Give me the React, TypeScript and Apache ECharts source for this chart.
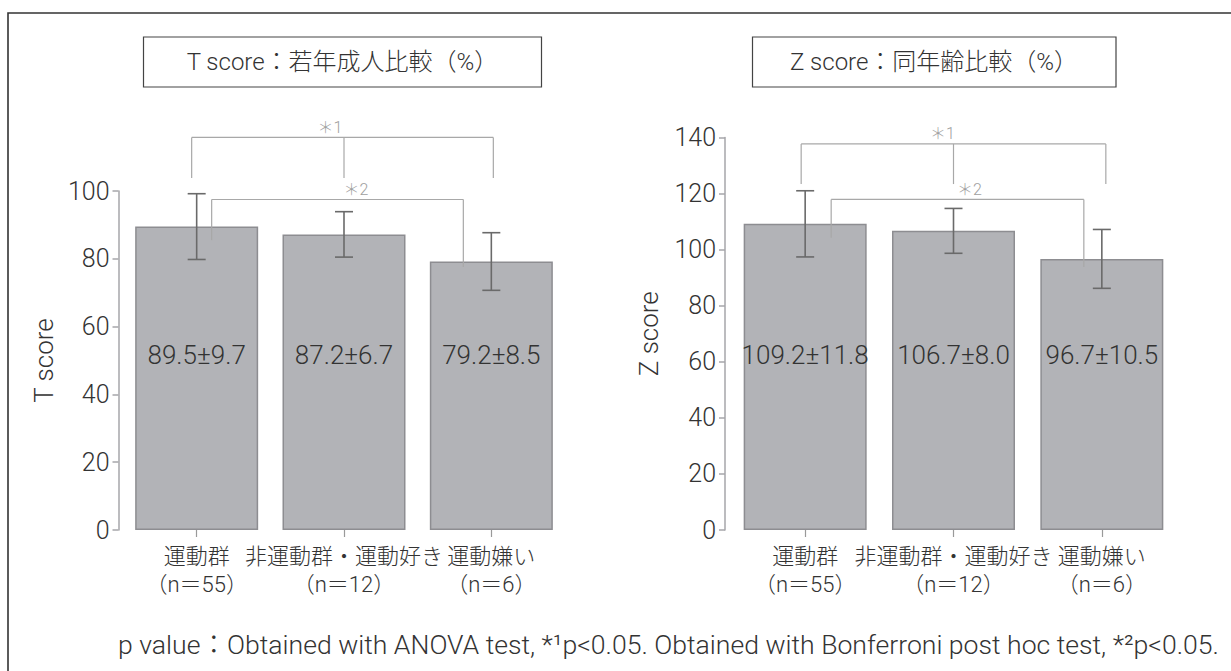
import React, { useEffect, useRef } from "react";
import * as echarts from "echarts";

// ---- data ----
const categories = ["運動群\n（n＝55）", "非運動群・運動好き\n（n＝12）", "運動嫌い\n（n＝6）"];
const tMeans = [89.5, 87.2, 79.2];
const tSDs = [9.7, 6.7, 8.5];
const zMeans = [109.2, 106.7, 96.7];
const zSDs = [11.8, 8.0, 10.5];
const tAxis = { min: 0, max: 100, interval: 20 };
const zAxis = { min: 0, max: 140, interval: 20 };
const tTitle = "T score：若年成人比較（%）";
const zTitle = "Z score：同年齢比較（%）";
const tName = "T score";
const zName = "Z score";
// brackets: from/to category, level (axis value of horizontal), legEnds (axis values)
const tBrackets = [
  { from: 0, to: 2, mid: 1, level: 115.8, legEnds: [103.8, 103.8, 103.8], label: "＊1" },
  { from: 0, to: 2, mid: -1, level: 97.5, legEnds: [85.5, 77.6], label: "＊2" },
];
const zBrackets = [
  { from: 0, to: 2, mid: 1, level: 137.7, legEnds: [123.4, 123.4, 123.4], label: "＊1" },
  { from: 0, to: 2, mid: -1, level: 117.9, legEnds: [104.2, 93.8], label: "＊2" },
];
const footnote =
  "p value：Obtained with ANOVA test, *¹p<0.05. Obtained with Bonferroni post hoc test, *²p<0.05.";

const FONT = "Roboto, 'Noto Sans CJK JP', sans-serif";
const TEXT = "#333333";
const BAR = "#b2b3b7";
const BAR_BORDER = "#8d8d91";
const ERR = "#6a6a6a";
const BRK = "#a8a8a8";
const AXIS = "#a6a6aa";

function errorSeries(grid: number, means: number[], sds: number[]) {
  return {
    type: "custom",
    xAxisIndex: grid,
    yAxisIndex: grid,
    data: means.map((m, i) => [i, m, sds[i]]),
    z: 5,
    renderItem: (params: any, api: any) => {
      const i = api.value(0);
      const m = api.value(1);
      const s = api.value(2);
      const top = api.coord([i, m + s]);
      const bot = api.coord([i, m - s]);
      const hw = 9;
      const st = { stroke: ERR, lineWidth: 1.6 };
      return {
        type: "group",
        children: [
          { type: "line", shape: { x1: top[0], y1: top[1], x2: bot[0], y2: bot[1] }, style: st },
          { type: "line", shape: { x1: top[0] - hw, y1: top[1], x2: top[0] + hw, y2: top[1] }, style: st },
          { type: "line", shape: { x1: bot[0] - hw, y1: bot[1], x2: bot[0] + hw, y2: bot[1] }, style: st },
        ],
      };
    },
  };
}

function labelSeries(grid: number, means: number[], sds: number[]) {
  return {
    type: "custom",
    xAxisIndex: grid,
    yAxisIndex: grid,
    data: means.map((m, i) => [i, m, sds[i]]),
    z: 6,
    renderItem: (params: any, api: any) => {
      const i = api.value(0);
      const p = api.coord([i, 0]);
      const txt = `${means[i].toFixed(1)}±${sds[i].toFixed(1)}`;
      return {
        type: "text",
        x: p[0],
        y: 355,
        style: { text: txt, fill: TEXT, font: `300 26px ${FONT}`, align: "center", verticalAlign: "middle" },
      };
    },
  };
}

function bracketSeries(grid: number, brackets: any[], offs: any) {
  return {
    type: "custom",
    xAxisIndex: grid,
    yAxisIndex: grid,
    data: brackets.map((b, i) => [b.from, b.level, i]),
    z: 4,
    clip: false,
    renderItem: (params: any, api: any) => {
      const b = brackets[params.dataIndex];
      const y = api.coord([0, b.level])[1];
      const st = { stroke: BRK, lineWidth: 1.2 };
      const children: any[] = [];
      const isMain = b.mid >= 0;
      const o = isMain ? offs.main : offs.sub;
      const xl = api.coord([b.from, 0])[0] + o[0];
      const xr = api.coord([b.to, 0])[0] + o[1];
      children.push({ type: "line", shape: { x1: xl, y1: y, x2: xr, y2: y }, style: st });
      children.push({ type: "line", shape: { x1: xl, y1: y, x2: xl, y2: api.coord([0, b.legEnds[0]])[1] }, style: st });
      const lastEnd = b.legEnds[b.legEnds.length - 1];
      children.push({ type: "line", shape: { x1: xr, y1: y, x2: xr, y2: api.coord([0, lastEnd])[1] }, style: st });
      const xm = api.coord([1, 0])[0];
      if (isMain) {
        children.push({ type: "line", shape: { x1: xm, y1: y, x2: xm, y2: api.coord([0, b.legEnds[1]])[1] }, style: st });
      }
      children.push({
        type: "text",
        x: xm + (isMain ? offs.label[0] : offs.label[1]),
        y: y - 10,
        style: { text: b.label, fill: "#a0a0a0", font: `300 16px ${FONT}`, align: "center", verticalAlign: "middle" },
      });
      return { type: "group", children };
    },
  };
}

function xAxis(grid: number) {
  return {
    gridIndex: grid,
    type: "category",
    data: categories,
    axisLine: { show: false },
    axisTick: { show: true, alignWithLabel: true, length: 7, lineStyle: { color: "#9a9a9a", width: 1.2 } },
    axisLabel: {
      interval: 0,
      fontSize: 22,
      fontWeight: 300,
      lineHeight: 28,
      color: TEXT,
      margin: 12,
      fontFamily: FONT,
    },
  };
}

function yAxis(grid: number, cfg: any, name: string, offset: number, gap: number) {
  return {
    gridIndex: grid,
    type: "value",
    min: cfg.min,
    max: cfg.max,
    interval: cfg.interval,
    offset,
    name,
    nameLocation: "middle",
    nameGap: gap,
    nameRotate: 90,
    nameTextStyle: { fontSize: 26, fontWeight: 300, color: TEXT, fontFamily: FONT },
    axisLine: { show: true, lineStyle: { color: AXIS, width: 1.5 } },
    axisTick: { show: true, length: 6, lineStyle: { color: AXIS, width: 1.5 } },
    splitLine: { show: false },
    axisLabel: { fontSize: 25, fontWeight: 300, color: TEXT, margin: 9, fontFamily: FONT },
  };
}

function barSeries(grid: number, means: number[]) {
  return {
    type: "bar",
    xAxisIndex: grid,
    yAxisIndex: grid,
    data: means,
    barWidth: 123,
    itemStyle: { color: BAR, borderColor: BAR_BORDER, borderWidth: 1.5 },
    z: 2,
  };
}

export default function App() {
  const ref = useRef<HTMLDivElement>(null);
  useEffect(() => {
    if (!ref.current) return;
    const chart = echarts.init(ref.current, null, { renderer: "svg" });
    chart.setOption({
      animation: false,
      backgroundColor: "#ffffff",
      grid: [
        { left: 123, top: 191, width: 442, height: 339 },
        { left: 731, top: 137.5, width: 445, height: 392.5 },
      ],
      xAxis: [xAxis(0), xAxis(1)],
      yAxis: [yAxis(0, tAxis, tName, 4.5, 62), yAxis(1, zAxis, zName, 6, 63)],
      series: [
        barSeries(0, tMeans),
        errorSeries(0, tMeans, tSDs),
        labelSeries(0, tMeans, tSDs),
        bracketSeries(0, tBrackets, { main: [-5, 2], sub: [15, -28], label: [-14, 12] }),
        barSeries(1, zMeans),
        errorSeries(1, zMeans, zSDs),
        labelSeries(1, zMeans, zSDs),
        bracketSeries(1, zBrackets, { main: [-4, 4], sub: [26, -18], label: [-11, 16] }),
      ],
      graphic: [
        {
          type: "rect",
          shape: { x: 8, y: 13, width: 1300, height: 700 },
          style: { fill: "none", stroke: "#333", lineWidth: 1.6 },
          silent: true,
        },
        {
          type: "rect",
          shape: { x: 143.5, y: 37, width: 398, height: 50 },
          style: { fill: "none", stroke: "#444", lineWidth: 1.2 },
        },
        {
          type: "text",
          x: 342.5,
          y: 62,
          style: { text: tTitle, fill: TEXT, font: `300 24px ${FONT}`, align: "center", verticalAlign: "middle" },
        },
        {
          type: "rect",
          shape: { x: 752.5, y: 37, width: 363.5, height: 50 },
          style: { fill: "none", stroke: "#444", lineWidth: 1.2 },
        },
        {
          type: "text",
          x: 934,
          y: 62,
          style: { text: zTitle, fill: TEXT, font: `300 24px ${FONT}`, align: "center", verticalAlign: "middle" },
        },
        {
          type: "text",
          x: 118,
          y: 644,
          style: { text: footnote, fill: TEXT, font: `300 26.6px ${FONT}`, align: "left", verticalAlign: "middle" },
        },
      ],
    });
    return () => chart.dispose();
  }, []);
  return (
    <div
      ref={ref}
      style={{ position: "fixed", left: 0, top: 0, width: 1231, height: 671, background: "#fff" }}
    />
  );
}
